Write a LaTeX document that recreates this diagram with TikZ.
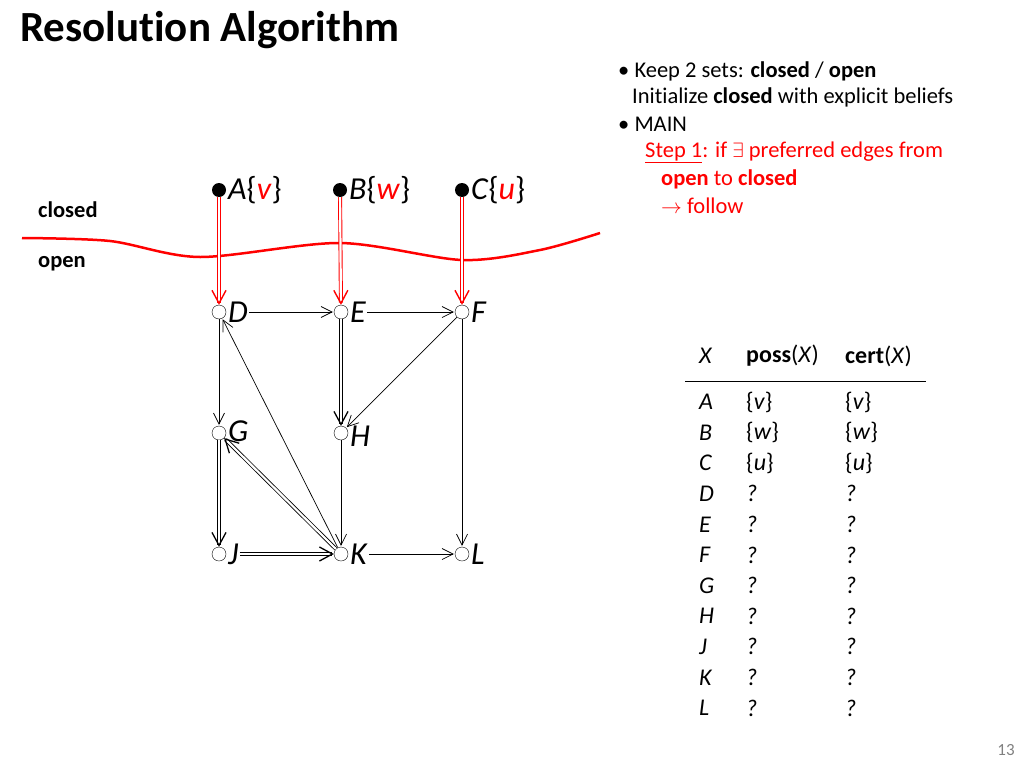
\documentclass[tikz,border=0pt]{standalone}
\usepackage{fontspec}
\setmainfont{Carlito}[Ligatures=NoCommon]
\usetikzlibrary{arrows.meta}
\begin{document}
\begin{tikzpicture}[x=1pt,y=-1pt,
  v/.style={circle,draw,fill=white,inner sep=0pt,minimum size=14pt},
  dot/.style={circle,fill=black,inner sep=0pt,minimum size=14pt},
  lab/.style={anchor=west,font=\fontsize{32}{34}\selectfont,inner sep=1pt},
  e/.style={-{Straight Barb[length=11pt,width=11pt]},line width=0.7pt,shorten >=1pt},
  e2/.style={double,double distance=2.2pt,line width=0.8pt,-{Straight Barb[length=13pt,width=14pt,line width=1.3pt]}},
  r2/.style={red,double,double distance=2.2pt,line width=0.9pt,-{Straight Barb[length=13pt,width=14pt,line width=1.4pt]}},
  txt/.style={anchor=west,font=\fontsize{22.5}{26}\selectfont,inner sep=0pt},
  tb/.style={anchor=west,font=\fontsize{24}{27}\selectfont,inner sep=0pt}]
\useasboundingbox (0,0) rectangle (1024,768);
\node[anchor=west,font=\fontsize{43}{46}\selectfont\bfseries,inner sep=0pt] (title) at (20,30) {Resolu\kern0pt tion Algorithm};
% bullets
\node[txt] (b1) at (618,71) {\textbullet\ Keep 2 sets: \textbf{closed} / \textbf{open}};
\node[txt] (b1b) at (632,97) {Ini\kern0pt tialize \textbf{closed} with explicit beliefs};
\node[txt] (b2) at (618,124) {\textbullet\ MAIN};
\node[txt,red] (b3) at (645,152) {\underline{Step 1}: if $\exists$ preferred edges from};
\node[txt,red] (b3b) at (661,179) {\textbf{open} to \textbf{closed}};
\node[txt,red] (b3c) at (661,206) {$\rightarrow$ follow};
% closed/open
\node[txt,font=\fontsize{22.5}{26}\selectfont\bfseries] (cl) at (38,210) {closed};
\node[txt,font=\fontsize{22.5}{26}\selectfont\bfseries] (op) at (38,264) {open};
\draw[red,line width=2.5pt] plot[smooth] coordinates {(22,238) (110,241) (200,257) (340,243) (462,260) (540,250) (600,233)};
% nodes
\node[dot] (A) at (219,190) {}; \node[lab] (Al) at (227,190) {\textit{A}\{{\color{red}\textit{v}}\}};
\node[dot] (B) at (340,190) {}; \node[lab] (Bl) at (348,190) {\textit{B}\{{\color{red}\textit{w}}\}};
\node[dot] (C) at (462,190) {}; \node[lab] (Cl) at (470,190) {\textit{C}\{{\color{red}\textit{u}}\}};
\node[v] (D) at (219,312) {}; \node[lab] (Dl) at (227,312) {\textit{D}};
\node[v] (E) at (341,312) {}; \node[lab] (El) at (349,312) {\textit{E}};
\node[v] (F) at (462,312) {}; \node[lab] (Fl) at (470,312) {\textit{F}};
\node[v] (G) at (219,433) {}; \node[lab] (Gl) at (227,431) {\textit{G}};
\node[v] (H) at (341,433) {}; \node[lab] (Hl) at (349,436) {\textit{H}};
\node[v] (J) at (219,554) {}; \node[lab] (Jl) at (227,554) {\textit{J}};
\node[v] (K) at (341,554) {}; \node[lab] (Kl) at (349,554) {\textit{K}};
\node[v] (L) at (462,554) {}; \node[lab] (Ll) at (470,554) {\textit{L}};
% edges
\draw[r2] (A) -- (D);
\draw[r2] (B) -- (E);
\draw[r2] (C) -- (F);
\draw[e] (Dl) -- (E);
\draw[e] (El) -- (F);
\draw[e] (D) -- (G);
\draw[e] (F) -- (H);
\draw[e] (K) -- (D);
\draw[e] (H) -- (K);
\draw[e] (Kl) -- (L);
\draw[e] (F) -- (L);
\draw[e2] (E) -- (H);
\draw[e2] (G) -- (J);
\draw[e2] (K) -- (G);
\draw[e2] (Jl) -- (K);
% table
\node[tb] (hx) at (699,356) {\itshape X};
\node[tb] (hp) at (746,356) {\textbf{poss}(\textit{X})};
\node[tb] (hc) at (845,356) {\textbf{cert}(\textit{X})};
\draw[line width=0.8pt] (685,381) -- (926,381);
\foreach \n/\p/\c [count=\i from 0] in {A/\{\textit{v}\}/\{\textit{v}\}, B/\{\textit{w}\}/\{\textit{w}\}, C/\{\textit{u}\}/\{\textit{u}\}, D/\textit{?}/\textit{?}, E/\textit{?}/\textit{?}, F/\textit{?}/\textit{?}, G/\textit{?}/\textit{?}, H/\textit{?}/\textit{?}, J/\textit{?}/\textit{?}, K/\textit{?}/\textit{?}, L/\textit{?}/\textit{?}}{
  \node[tb] (r\i x) at (699,402+30.6*\i) {\itshape\n};
  \node[tb] (r\i p) at (746,402+30.6*\i) {\p};
  \node[tb] (r\i c) at (845,402+30.6*\i) {\c};
}
\node[font=\fontsize{17}{19}\selectfont,text=gray] (pg) at (1006,750) {13};
\end{tikzpicture}
\end{document}
